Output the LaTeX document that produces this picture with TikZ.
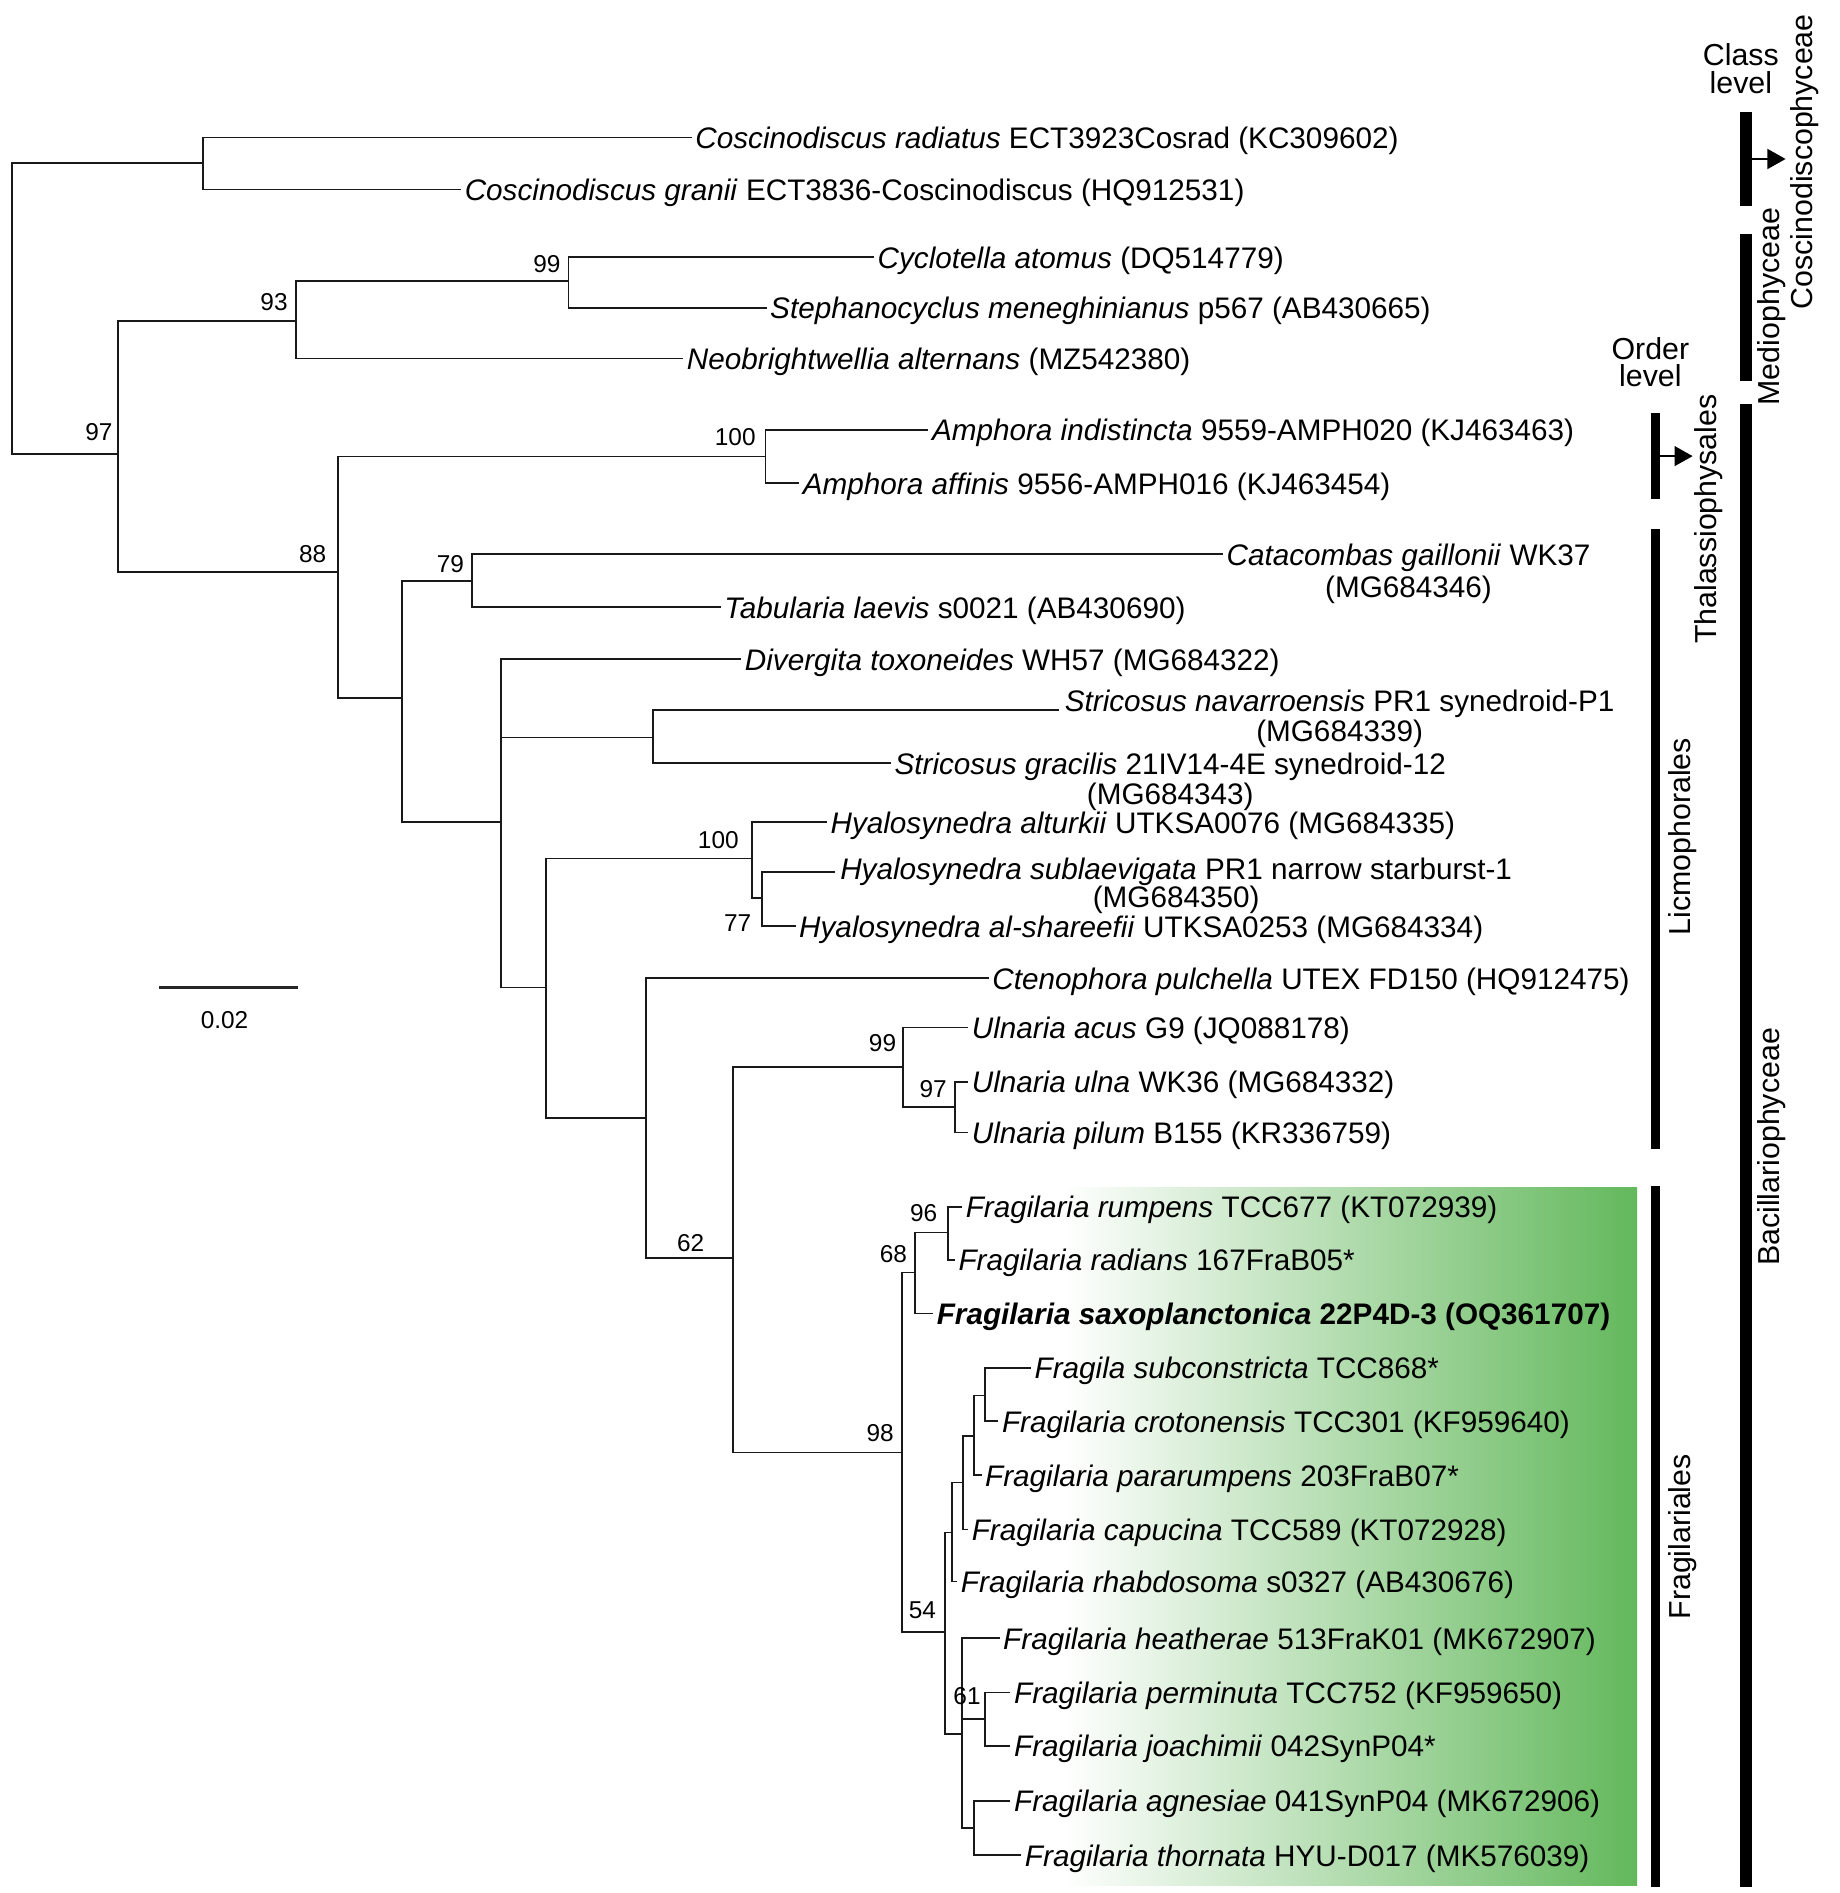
\documentclass[tikz,border=0pt]{standalone}
\usepackage{fontspec}
\setmainfont{Liberation Sans}
\usetikzlibrary{arrows.meta}
\definecolor{fragreen}{RGB}{99,184,92}

\begin{document}
\begin{tikzpicture}[x=0.02cm, y=-0.02cm,
  br/.style={draw=black!90, line width=0.8pt},
  tip/.style={anchor=west, inner xsep=1.5pt, inner ysep=0pt, text height=10.5pt, text depth=0pt, font=\fontsize{14}{16}\selectfont},
  tipb/.style={tip, anchor=north, inner xsep=0pt, yshift=-3.4pt},
  bs/.style={inner sep=0pt, font=\fontsize{11.5}{13}\selectfont},
  rank/.style={rotate=90, inner sep=0pt, font=\fontsize{14.3}{16}\selectfont},
  lvl/.style={align=center, inner sep=0pt, font=\fontsize{14.3}{13}\selectfont},
  ordbar/.style={fill=black, inner sep=0pt, minimum width=0.15cm},
  clsbar/.style={fill=black, inner sep=0pt, minimum width=0.2cm},
  pt/.style={-{Triangle[length=0.3cm, width=0.33cm]}, line width=0.8pt}
]
\useasboundingbox (0,0) rectangle (1524,1568);

\shade[left color=white, right color=fragreen] (880,984) rectangle (1356,1562);

\coordinate (root) at (10,255);
\coordinate (ncos) at (168,135);
\coordinate (n97) at (98,376);
\coordinate (n93) at (245,266);
\coordinate (n99a) at (471,233);
\coordinate (n88) at (280,474);
\coordinate (n100a) at (634,378);
\coordinate (nbac) at (333,578);
\coordinate (n79) at (391,481);
\coordinate (nlic) at (415,681);
\coordinate (nstr) at (541,611);
\coordinate (nsub) at (452,818);
\coordinate (n100b) at (623,711);
\coordinate (n77) at (631,744);
\coordinate (ncte) at (535,926);
\coordinate (n62) at (607,1042);
\coordinate (n99b) at (748,884);
\coordinate (n97b) at (791,917);
\coordinate (n98) at (747,1203);
\coordinate (n68) at (758,1054);
\coordinate (n96) at (785,1021);
\coordinate (n54) at (783,1352);
\coordinate (nrha) at (788.5,1269.5);
\coordinate (ncap) at (797.5,1228);
\coordinate (npar) at (807,1189.5);
\coordinate (ncro) at (816,1156);
\coordinate (n54b) at (797,1436);
\coordinate (n61) at (816,1424);
\coordinate (ntho) at (807,1514);
\coordinate (snat) at (877,588);
\coordinate (hsut) at (692,722);

\node[tip] (cra) at (573,114) {\textit{Coscinodiscus radiatus} ECT3923Cosrad (KC309602)};
\node[tip] (cgr) at (382,157) {\textit{Coscinodiscus granii} ECT3836-Coscinodiscus (HQ912531)};
\node[tip] (cyc) at (724,213) {\textit{Cyclotella atomus} (DQ514779)};
\node[tip] (ste) at (635,255) {\textit{Stephanocyclus meneghinianus} p567 (AB430665)};
\node[tip] (neo) at (566,297) {\textit{Neobrightwellia alternans} (MZ542380)};
\node[tip] (ain) at (769,356) {\textit{Amphora indistincta} 9559-AMPH020 (KJ463463)};
\node[tip] (aaf) at (662,400) {\textit{Amphora affinis} 9556-AMPH016 (KJ463454)};
\node[tip] (cat) at (1013,459) {\textit{Catacombas gaillonii} WK37};
\node[tipb, yshift=-1pt] (catb) at (cat.south) {(MG684346)};
\node[tip] (tab) at (597,503) {\textit{Tabularia laevis} s0021 (AB430690)};
\node[tip] (div) at (614,546) {\textit{Divergita toxoneides} WH57 (MG684322)};
\node[tip] (sna) at (879,580) {\textit{Stricosus navarroensis} PR1 synedroid-P1};
\node[tipb] (snab) at (sna.south) {(MG684339)};
\node[tip] (sgr) at (738,632) {\textit{Stricosus gracilis} 21IV14-4E synedroid-12};
\node[tipb] (sgrb) at (sgr.south) {(MG684343)};
\node[tip] (hal) at (685,681) {\textit{Hyalosynedra alturkii} UTKSA0076 (MG684335)};
\node[tip] (hsu) at (693,719) {\textit{Hyalosynedra sublaevigata} PR1 narrow starburst-1};
\node[tipb, yshift=0.8pt] (hsub) at (hsu.south) {(MG684350)};
\node[tip] (hsh) at (659,767) {\textit{Hyalosynedra al-shareefii} UTKSA0253 (MG684334)};
\node[tip] (cte) at (819,810) {\textit{Ctenophora pulchella} UTEX FD150 (HQ912475)};
\node[tip] (uac) at (802,851) {\textit{Ulnaria acus} G9 (JQ088178)};
\node[tip] (uul) at (802,896) {\textit{Ulnaria ulna} WK36 (MG684332)};
\node[tip] (upi) at (802,938) {\textit{Ulnaria pilum} B155 (KR336759)};
\node[tip] (rum) at (797,999.5) {\textit{Fragilaria rumpens} TCC677 (KT072939)};
\node[tip] (rad) at (791,1043.5) {\textit{Fragilaria radians} 167FraB05*};
\node[tip] (sax) at (773,1088) {\textbf{\textit{Fragilaria saxoplanctonica} 22P4D-3 (OQ361707)}};
\node[tip] (sub) at (854,1133) {\textit{Fragila subconstricta} TCC868*};
\node[tip] (cro) at (827,1177) {\textit{Fragilaria crotonensis} TCC301 (KF959640)};
\node[tip] (par) at (813,1222) {\textit{Fragilaria pararumpens} 203FraB07*};
\node[tip] (cap) at (802,1267) {\textit{Fragilaria capucina} TCC589 (KT072928)};
\node[tip] (rha) at (793,1310) {\textit{Fragilaria rhabdosoma} s0327 (AB430676)};
\node[tip] (hea) at (828,1357) {\textit{Fragilaria heatherae} 513FraK01 (MK672907)};
\node[tip] (per) at (837,1402) {\textit{Fragilaria perminuta} TCC752 (KF959650)};
\node[tip] (joa) at (837,1446) {\textit{Fragilaria joachimii} 042SynP04*};
\node[tip] (agn) at (837,1491.5) {\textit{Fragilaria agnesiae} 041SynP04 (MK672906)};
\node[tip] (tho) at (846,1536.5) {\textit{Fragilaria thornata} HYU-D017 (MK576039)};

\draw[br] (root) |- (ncos);
\draw[br] (root) |- (n97);
\draw[br] (ncos) |- (cra);
\draw[br] (ncos) |- (cgr);
\draw[br] (n97) |- (n93);
\draw[br] (n97) |- (n88);
\draw[br] (n93) |- (n99a);
\draw[br] (n93) |- (neo);
\draw[br] (n99a) |- (cyc);
\draw[br] (n99a) |- (ste);
\draw[br] (n88) |- (n100a);
\draw[br] (n88) |- (nbac);
\draw[br] (n100a) |- (ain);
\draw[br] (n100a) |- (aaf);
\draw[br] (nbac) |- (n79);
\draw[br] (nbac) |- (nlic);
\draw[br] (n79) |- (cat);
\draw[br] (n79) |- (tab);
\draw[br] (nlic) |- (div);
\draw[br] (nlic) |- (nstr);
\draw[br] (nlic) |- (nsub);
\draw[br] (nstr) |- (snat);
\draw[br] (nstr) |- (sgr);
\draw[br] (nsub) |- (n100b);
\draw[br] (nsub) |- (ncte);
\draw[br] (n100b) |- (hal);
\draw[br] (n100b) |- (n77);
\draw[br] (n77) |- (hsut);
\draw[br] (n77) |- (hsh);
\draw[br] (ncte) |- (cte);
\draw[br] (ncte) |- (n62);
\draw[br] (n62) |- (n99b);
\draw[br] (n62) |- (n98);
\draw[br] (n99b) |- (uac);
\draw[br] (n99b) |- (n97b);
\draw[br] (n97b) |- (uul);
\draw[br] (n97b) |- (upi);
\draw[br] (n98) |- (n68);
\draw[br] (n98) |- (n54);
\draw[br] (n68) |- (n96);
\draw[br] (n68) |- (sax);
\draw[br] (n96) |- (rum);
\draw[br] (n96) |- (rad);
\draw[br] (n54) |- (nrha);
\draw[br] (n54) |- (n54b);
\draw[br] (nrha) |- (ncap);
\draw[br] (nrha) |- (rha);
\draw[br] (ncap) |- (npar);
\draw[br] (ncap) |- (cap);
\draw[br] (npar) |- (ncro);
\draw[br] (npar) |- (par);
\draw[br] (ncro) |- (sub);
\draw[br] (ncro) |- (cro);
\draw[br] (n54b) |- (hea);
\draw[br] (n54b) |- (n61);
\draw[br] (n54b) |- (ntho);
\draw[br] (n61) |- (per);
\draw[br] (n61) |- (joa);
\draw[br] (ntho) |- (agn);
\draw[br] (ntho) |- (tho);

\node[bs] (bs97a) at (82,358) {97};
\node[bs] (bs93) at (227,250) {93};
\node[bs] (bs99a) at (453,219) {99};
\node[bs] (bs100a) at (609,362) {100};
\node[bs] (bs88) at (259,459) {88};
\node[bs] (bs79) at (373,467) {79};
\node[bs] (bs100b) at (595,696) {100};
\node[bs] (bs77) at (611,765) {77};
\node[bs] (bs99b) at (731,864) {99};
\node[bs] (bs97b) at (773,902) {97};
\node[bs] (bs62) at (572,1030) {62};
\node[bs] (bs96) at (765,1005) {96};
\node[bs] (bs68) at (740,1039) {68};
\node[bs] (bs98) at (729,1187) {98};
\node[bs] (bs54) at (764,1334) {54};
\node[bs] (bs61) at (801,1405) {61};

\coordinate (sbl) at (132,818);
\coordinate (sbr) at (247,818);
\draw[line width=1pt, black!85] (sbl) -- (sbr);
\node[bs] (sbt) at (186,845) {0.02};

\node[lvl] (clv) at (1442,57) {Class\\level};
\node[lvl] (olv) at (1367,300) {Order\\level};

\node[clsbar, minimum height=1.57cm] (bcos) at (1446,131.7) {};
\node[clsbar, minimum height=2.44cm] (bmed) at (1446,255) {};
\node[clsbar, minimum height=24.57cm] (bbac) at (1446,948.9) {};
\node[ordbar, minimum height=1.43cm] (btha) at (1371,377.8) {};
\node[ordbar, minimum height=10.27cm] (blic) at (1371,694.9) {};
\node[ordbar, minimum height=11.62cm] (bfra) at (1371,1272.5) {};

\coordinate (acos) at (1479,131.7);
\coordinate (atha) at (1402,377.8);
\draw[pt] (bcos.east) -- (acos);
\draw[pt] (btha.east) -- (atha);

\node[rank] (tcos) at (1495,134) {Coscinodiscophyceae};
\node[rank] (tmed) at (1467.5,254) {Mediophyceae};
\node[rank] (tbac) at (1467.5,950) {Bacillariophyceae};
\node[rank] (ttha) at (1415,430) {Thalassiophysales};
\node[rank] (tlic) at (1394,693) {Licmophorales};
\node[rank] (tfra) at (1394,1273) {Fragilariales};
\end{tikzpicture}
\end{document}
